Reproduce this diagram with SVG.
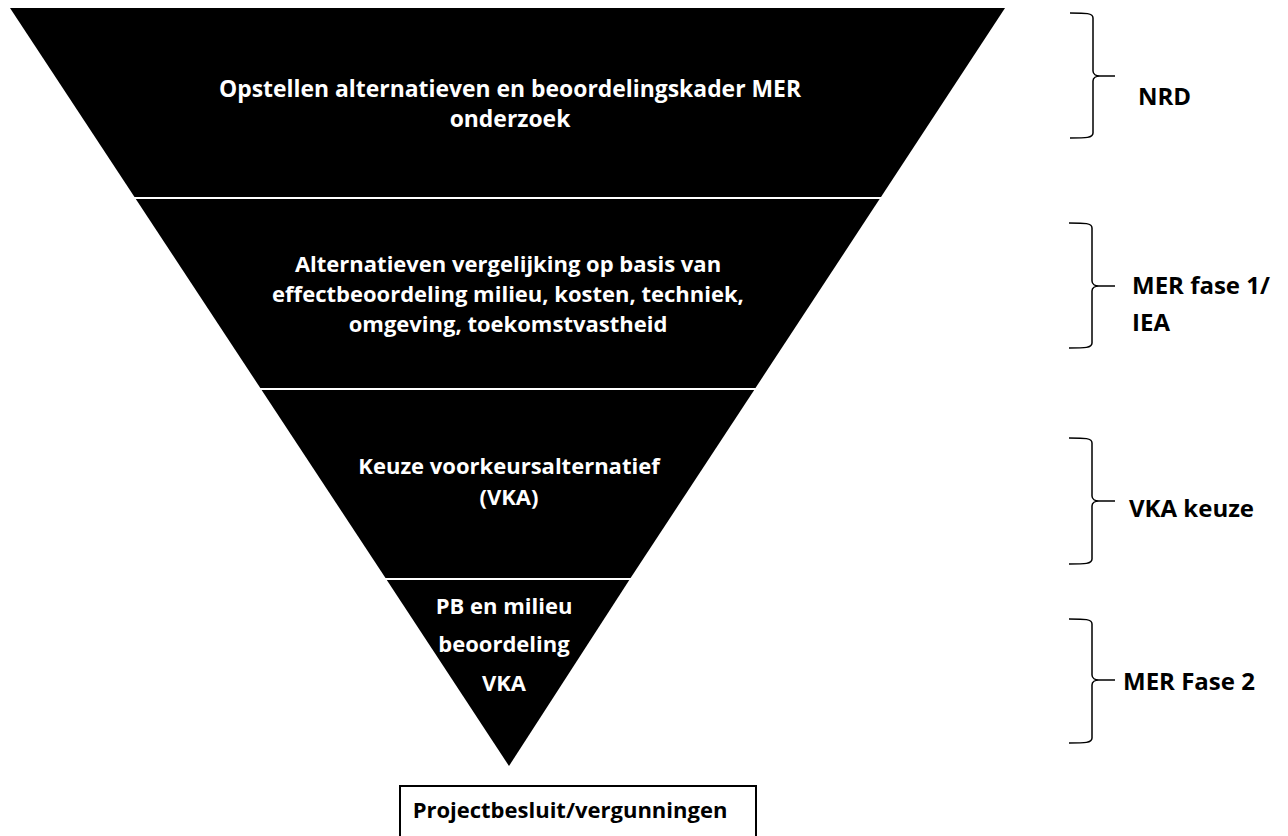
<svg xmlns="http://www.w3.org/2000/svg" width="1288" height="836" viewBox="0 0 1288 836">
<style>
.tier{fill:#000;}
.t{font-family:"Open Sans","Liberation Sans",sans-serif;font-weight:bold;font-size:22px;fill:#fff;text-anchor:middle;}
.lbl{font-family:"Open Sans","Liberation Sans",sans-serif;font-weight:bold;font-size:24px;fill:#000;}
.brace{fill:none;stroke:#000;stroke-width:1.5;}
</style>
<rect width="1288" height="836" fill="#fff"/>
<g id="tier1"><polygon class="tier" points="10,8 1005,8 881,197 134.5,197"/>
<text class="t" x="510" y="97" style="font-size:22.9px">Opstellen alternatieven en beoordelingskader MER</text>
<text class="t" x="510" y="127" style="font-size:22.9px">onderzoek</text></g>
<g id="tier2"><polygon class="tier" points="135.8,199 879.6,199 755.5,388 260.3,388"/>
<text class="t" x="508" y="272">Alternatieven vergelijking op basis van</text>
<text class="t" x="508" y="302">effectbeoordeling milieu, kosten, techniek,</text>
<text class="t" x="508" y="332">omgeving, toekomstvastheid</text></g>
<g id="tier3"><polygon class="tier" points="261.6,390 754.2,390 630.6,578 385.5,578"/>
<text class="t" x="509" y="474">Keuze voorkeursalternatief</text>
<text class="t" x="509" y="505">(VKA)</text></g>
<g id="tier4"><polygon class="tier" points="386.8,580 629.3,580 509,766"/>
<text class="t" x="504" y="614">PB en milieu</text>
<text class="t" x="504" y="652">beoordeling</text>
<text class="t" x="504" y="691">VKA</text></g>
<g id="result"><rect x="400" y="786" width="356" height="70" fill="#fff" stroke="#000" stroke-width="2"/>
<text class="lbl" x="570" y="818" style="font-size:22px;text-anchor:middle">Projectbesluit/vergunningen</text></g>
<g id="connectors">
<path class="brace" d="M1070,13 C1086,13 1093,13 1093,18 L1093,71 C1093,74 1096,76 1100,76 L1115,76 M1100,76 C1096,76 1093,78 1093,81 L1093,133 C1093,138 1086,138 1070,138"/>
<path class="brace" d="M1069,223 C1085,223 1092,223 1092,228 L1092,281 C1092,284 1095,286 1099,286 L1115,286 M1099,286 C1095,286 1092,288 1092,291 L1092,343 C1092,348 1085,348 1069,348"/>
<path class="brace" d="M1069,438 C1085,438 1092,438 1092,443 L1092,496 C1092,499 1095,501 1099,501 L1115,501 M1099,501 C1095,501 1092,503 1092,506 L1092,559 C1092,564 1085,564 1069,564"/>
<path class="brace" d="M1069,619 C1085,619 1092,619 1092,624 L1092,675 C1092,678 1095,680 1099,680 L1115,680 M1099,680 C1095,680 1092,682 1092,685 L1092,738 C1092,743 1085,743 1069,743"/>
</g>
<g id="labels">
<text class="lbl" x="1138" y="105">NRD</text>
<text class="lbl" x="1132" y="294">MER fase 1/</text>
<text class="lbl" x="1132" y="331">IEA</text>
<text class="lbl" x="1129" y="517">VKA keuze</text>
<text class="lbl" x="1123" y="690">MER Fase 2</text>
</g>
</svg>
